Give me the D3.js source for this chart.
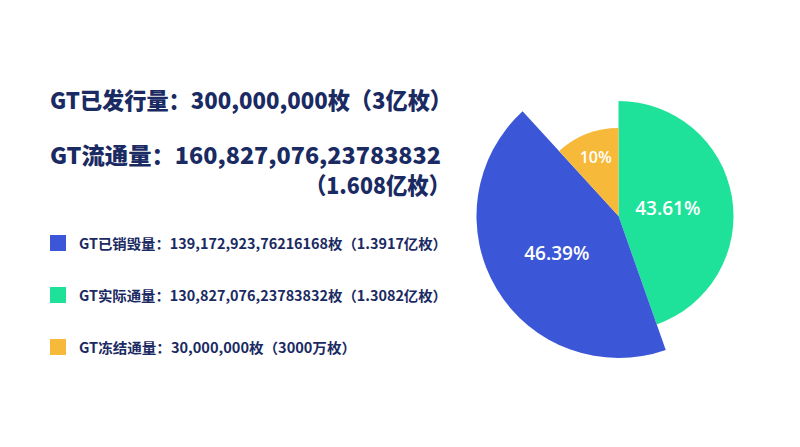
<!DOCTYPE html>
<html><head><meta charset="utf-8">
<script src="https://cdn.jsdelivr.net/npm/d3@7"></script>
<style>html,body{margin:0;padding:0;background:#fff;}svg{display:block;}</style>
</head><body>
<svg id="chart" width="800" height="447"></svg>
<script>
// ---- data ----
const headlines = ["GT已发行量：300,000,000枚（3亿枚）", "GT流通量：160,827,076,23783832", "（1.608亿枚）"];
const legendLabels = [
  "GT已销毁量：139,172,923,76216168枚（1.3917亿枚）",
  "GT实际通量：130,827,076,23783832枚（1.3082亿枚）",
  "GT冻结通量：30,000,000枚（3000万枚）"
];
const legendKeys = ["burned", "circulating", "frozen"];
// pie slices in drawing order (clockwise from 12 o'clock)
const sliceKeys = ["circulating", "burned", "frozen"];
const sliceShares = [44.6, 43.6, 11.8];          // share of the circle as drawn
const sliceLabels = ["43.61%", "46.39%", "10%"];  // printed percentages

// ---- styles ----
const colors = {burned: "#3b57d7", circulating: "#1fe29a", frozen: "#f7b93a"};
const outerR = {burned: 142, circulating: 115, frozen: 88};
const labelR = {burned: 72, circulating: 50, frozen: 63};
const labelSize = {burned: 19, circulating: 19, frozen: 16};
const navy = "#1a2a62";

const svg = d3.select("#chart");

// ---- headline text ----
const cjk = "'Noto Sans CJK SC', 'Noto Sans', sans-serif";
const head = svg.append("g").attr("font-family", cjk).attr("font-weight", 900).attr("fill", navy);
head.append("text").attr("x", 50).attr("y", 109).attr("font-size", 23)
  .attr("textLength", 402).attr("lengthAdjust", "spacingAndGlyphs").text(headlines[0]);
head.append("text").attr("x", 50).attr("y", 164).attr("font-size", 23)
  .attr("textLength", 391).attr("lengthAdjust", "spacingAndGlyphs").text(headlines[1]);
head.append("text").attr("x", 305).attr("y", 194).attr("font-size", 23)
  .attr("textLength", 145).attr("lengthAdjust", "spacingAndGlyphs").text(headlines[2]);

// ---- legend ----
const legendY = d3.scalePoint().domain(legendKeys).range([243, 347]);
const legendWidths = [368, 368, 277];
const leg = svg.append("g");
legendKeys.forEach((k, i) => {
  const y = legendY(k);
  leg.append("rect").attr("x", 50).attr("y", y - 8).attr("width", 16).attr("height", 16).attr("fill", colors[k]);
  leg.append("text").attr("x", 79).attr("y", y + 5.5)
    .attr("font-family", cjk).attr("font-weight", 700).attr("font-size", 14).attr("fill", navy)
    .attr("textLength", legendWidths[i]).attr("lengthAdjust", "spacingAndGlyphs")
    .text(legendLabels[i]);
});

// ---- pie ----
const cx = 618.5, cy = 216;
const pie = d3.pie().sort(null).value(d => d.v);
const arcsData = pie(sliceKeys.map((k, i) => ({k, v: sliceShares[i], label: sliceLabels[i]})));
const g = svg.append("g").attr("transform", `translate(${cx},${cy})`);
g.selectAll("path").data(arcsData).join("path")
  .attr("d", d => d3.arc().innerRadius(0).outerRadius(outerR[d.data.k])(d))
  .attr("fill", d => colors[d.data.k]);
g.selectAll("text").data(arcsData).join("text")
  .attr("x", d => Math.sin((d.startAngle + d.endAngle) / 2) * labelR[d.data.k])
  .attr("y", d => -Math.cos((d.startAngle + d.endAngle) / 2) * labelR[d.data.k])
  .attr("text-anchor", "middle").attr("dominant-baseline", "central")
  .attr("font-family", "'Open Sans', 'Noto Sans', sans-serif").attr("font-weight", 600)
  .attr("font-size", d => labelSize[d.data.k]).attr("fill", "#fff")
  .text(d => d.data.label);
</script>
</body></html>
